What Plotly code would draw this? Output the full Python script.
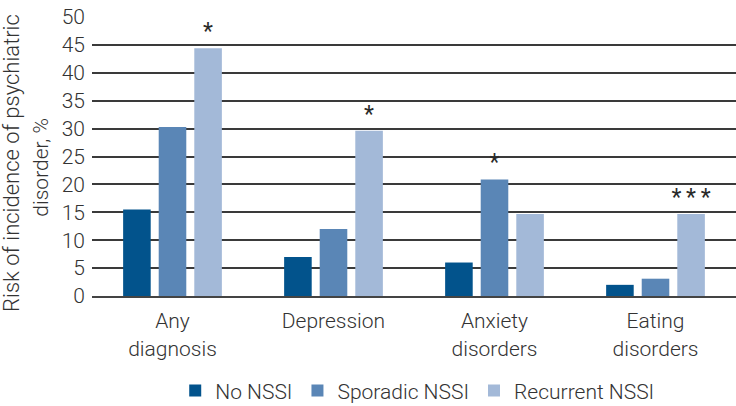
import plotly.graph_objects as go

categories = ["Any<br>diagnosis", "Depression", "Anxiety<br>disorders", "Eating<br>disorders"]
no_nssi = [15.5, 7.0, 6.0, 2.0]
sporadic_nssi = [30.3, 12.0, 20.9, 3.1]
recurrent_nssi = [44.4, 29.6, 14.7, 14.7]
sporadic_sig = ["", "", "*", ""]
recurrent_sig = ["*", "*", "", "*\u2009*\u2009*"]
y_ticks = [0, 5, 10, 15, 20, 25, 30, 35, 40, 45, 50]
y_title_lines = ["Risk of incidence of psychiatric", "disorder, %"]

FONT = "Roboto"
TXT = "#333333"
STAR = dict(size=23, color="#2a2a2a", family=FONT, weight=400)

fig = go.Figure()
fig.add_trace(go.Bar(name="No NSSI", x=categories, y=no_nssi,
                     marker=dict(color="#02538C", line=dict(width=0))))
fig.add_trace(go.Bar(name="Sporadic NSSI", x=categories, y=sporadic_nssi,
                     text=sporadic_sig, textposition="outside", constraintext="none",
                     textfont=STAR, cliponaxis=False,
                     marker=dict(color="#5A86B6", line=dict(width=0))))
fig.add_trace(go.Bar(name="Recurrent NSSI", x=categories, y=recurrent_nssi,
                     text=recurrent_sig, textposition="outside", constraintext="none",
                     textfont=STAR, cliponaxis=False,
                     marker=dict(color="#A3B9D8", line=dict(width=0))))

# first title line: bottom end just below the plot; second line centred lower than plot centre
fig.add_annotation(text=y_title_lines[0], xref="paper", yref="paper", x=0, y=0,
                   xanchor="center", yanchor="bottom", xshift=-81, yshift=-18, textangle=-90,
                   showarrow=False, font=dict(size=22, family=FONT, color=TXT, weight=300))
fig.add_annotation(text=y_title_lines[1], xref="paper", yref="paper", x=0, y=0.46,
                   xanchor="center", yanchor="middle", xshift=-51, textangle=-90,
                   showarrow=False, font=dict(size=21, family=FONT, color=TXT, weight=300))

fig.update_layout(
    width=736, height=406,
    margin=dict(l=92, r=0, t=17, b=110, autoexpand=False),
    paper_bgcolor="white", plot_bgcolor="white",
    font=dict(family=FONT, color=TXT, size=21, weight=300),
    barmode="group", bargap=0.337, bargroupgap=0.225,
    showlegend=True,
    legend=dict(orientation="h", x=0.505, xanchor="center", y=-0.34, yanchor="middle",
                font=dict(size=21, family=FONT, color=TXT, weight=300), itemwidth=30,
                traceorder="normal"),
    xaxis=dict(range=[-0.5, 3.5], showgrid=False, showline=True, linecolor="#444444",
               linewidth=2, ticks="", automargin=False, ticklabelstandoff=5,
               tickfont=dict(size=21, family=FONT, color=TXT, weight=300)),
    yaxis=dict(range=[0, 50], tickvals=y_ticks, showgrid=True, gridcolor="#3a3a3a",
               gridwidth=2, zeroline=False, showline=False, ticks="", automargin=False,
               ticklabelstandoff=6,
               tickfont=dict(size=21, family=FONT, color=TXT, weight=300)),
)

fig.write_html("out.html", config={"displayModeBar": False},
               post_script="document.body.style.margin='0px';")
